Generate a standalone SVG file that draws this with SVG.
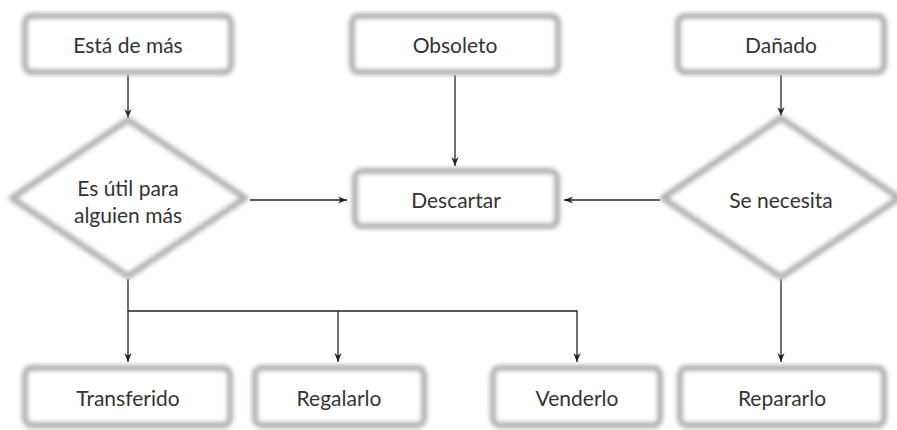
<svg xmlns="http://www.w3.org/2000/svg" width="897" height="430" viewBox="0 0 897 430">
<defs>
<filter id="blur" x="-10%" y="-10%" width="120%" height="120%"><feGaussianBlur stdDeviation="2.2"/></filter>
<marker id="arr" viewBox="0 0 10 10" refX="10" refY="5" markerWidth="9" markerHeight="9" markerUnits="userSpaceOnUse" orient="auto"><path d="M0,1 L10,5 L0,9 L3,5 Z" fill="#222"/></marker>
</defs>
<style>
.box{fill:#fff;stroke:#b3b3b3;stroke-width:6.5;filter:url(#blur)}
.t{font-family:Lato,"Liberation Sans",sans-serif;font-size:21px;fill:#333;text-anchor:middle;dominant-baseline:central}
.c{fill:none;stroke:#222;stroke-width:1.3}
</style>
<rect width="897" height="430" fill="#fff"/>
<g id="connectors">
<line class="c" x1="128" y1="75" x2="128" y2="118" marker-end="url(#arr)"/>
<line class="c" x1="455" y1="75" x2="455" y2="166" marker-end="url(#arr)"/>
<line class="c" x1="781" y1="75" x2="781" y2="116" marker-end="url(#arr)"/>
<line class="c" x1="250" y1="200" x2="347" y2="200" marker-end="url(#arr)"/>
<line class="c" x1="660" y1="200" x2="564" y2="200" marker-end="url(#arr)"/>
<polyline class="c" points="128,279 128,311 577,311 577,362" marker-end="url(#arr)"/>
<line class="c" x1="128" y1="311" x2="128" y2="362" marker-end="url(#arr)"/>
<line class="c" x1="338" y1="311" x2="338" y2="362" marker-end="url(#arr)"/>
<line class="c" x1="781" y1="279" x2="781" y2="362" marker-end="url(#arr)"/>
</g>
<g id="esta-de-mas"><rect class="box" x="25" y="16" width="206" height="56" rx="7"/><text class="t" x="128" y="44">Está de más</text></g>
<g id="obsoleto"><rect class="box" x="352" y="16" width="206" height="56" rx="7"/><text class="t" x="455" y="44">Obsoleto</text></g>
<g id="danado"><rect class="box" x="678" y="16" width="206" height="56" rx="7"/><text class="t" x="781" y="44">Dañado</text></g>
<g id="es-util"><path class="box" d="M128,120 L245,198 L128,276 L12,198 Z" stroke-linejoin="round"/><text class="t" x="128" y="187">Es útil para</text><text class="t" x="128" y="214">alguien más</text></g>
<g id="descartar"><rect class="box" x="355" y="171" width="202" height="55" rx="7"/><text class="t" x="456" y="199">Descartar</text></g>
<g id="se-necesita"><path class="box" d="M781,118 L899,198 L781,277 L663,198 Z" stroke-linejoin="round"/><text class="t" x="781" y="199">Se necesita</text></g>
<g id="transferido"><rect class="box" x="25" y="368" width="205" height="57" rx="7"/><text class="t" x="128" y="397">Transferido</text></g>
<g id="regalarlo"><rect class="box" x="255" y="368" width="169" height="57" rx="7"/><text class="t" x="339" y="397">Regalarlo</text></g>
<g id="venderlo"><rect class="box" x="493" y="368" width="167" height="57" rx="7"/><text class="t" x="577" y="397">Venderlo</text></g>
<g id="repararlo"><rect class="box" x="680" y="368" width="204" height="57" rx="7"/><text class="t" x="782" y="397">Repararlo</text></g>
</svg>
